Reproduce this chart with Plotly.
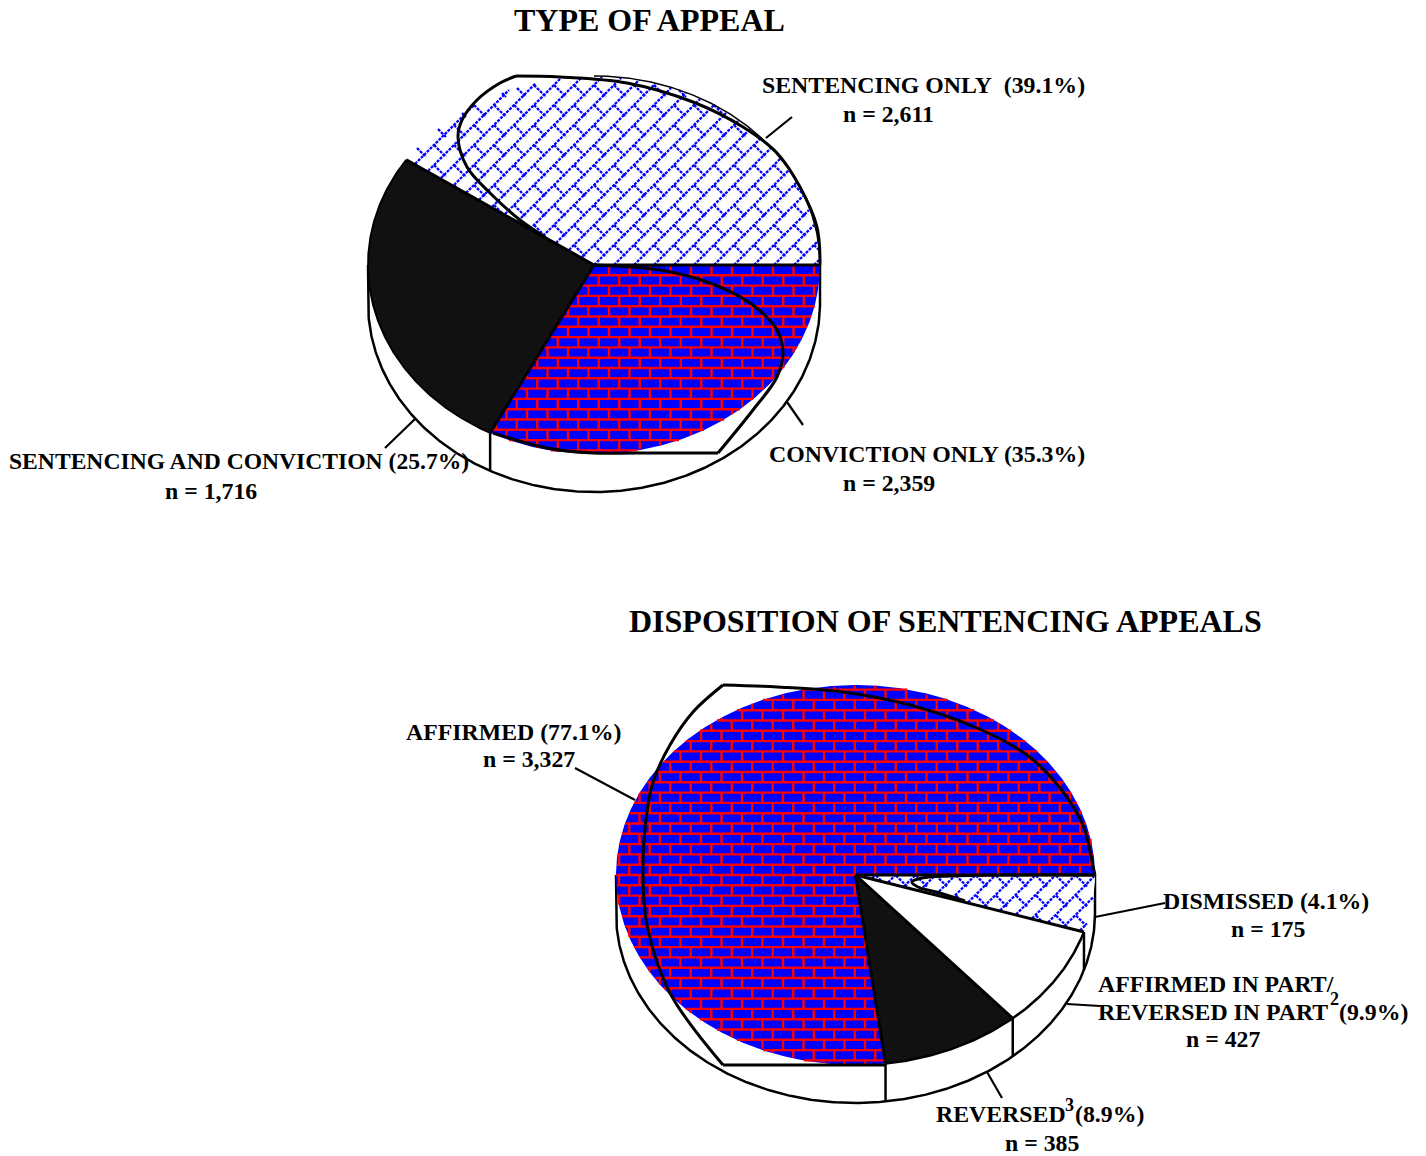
import numpy as np
import plotly.graph_objects as go

# ---------- data printed on the chart ----------
type_labels = ["SENTENCING ONLY", "CONVICTION ONLY", "SENTENCING AND CONVICTION"]
type_pct = [39.1, 35.3, 25.7]
type_n = [2611, 2359, 1716]
disp_labels = ["AFFIRMED", "DISMISSED", "AFFIRMED IN PART/", "REVERSED"]
disp_pct = [77.1, 4.1, 9.9, 8.9]
disp_n = [3327, 175, 427, 385]

# slice sizes as actually drawn in the picture (share of the ellipse sweep, %)
type_drawn = [40.6, 26.8, 32.6]         # ccw from east: sentencing, both, conviction
disp_drawn = [77.0, 9.4, 8.75, 4.85]    # ccw from east: affirmed, reversed, part, dismissed

# stray freehand outlines of the original (page pixels)
top_curve_a_x = [516, 560, 627, 693, 743, 777, 800, 817, 820]
top_curve_a_y = [76, 77, 83, 102, 127, 153, 187, 227, 265]
top_curve_b_x = [516, 500, 477, 462, 458, 467, 490, 520, 545]
top_curve_b_y = [76, 83, 100, 120, 137, 167, 193, 220, 237]
top_curve_c_x = [594, 660, 710, 750, 777, 783, 777, 753, 718]
top_curve_c_y = [265, 270, 283, 303, 330, 353, 377, 410, 453]
top_curve_d_x = [718, 637, 593, 547, 493]
top_curve_d_y = [453, 453, 453, 448, 433]
bot_curve_a_x = [723, 777, 843, 910, 977, 1027, 1060, 1083, 1093, 1095]
bot_curve_a_y = [685, 687, 692, 705, 728, 755, 788, 825, 866, 875]
bot_curve_b_x = [723, 693, 670, 653, 645, 643, 647, 670, 723]
bot_curve_b_y = [685, 712, 745, 782, 828, 875, 925, 993, 1065]
bot_curve_c_x = [723, 885]
bot_curve_c_y = [1065, 1065]
bot_curve_d_x = [1095, 1000, 950, 922, 912, 918, 940, 965]
bot_curve_d_y = [875, 875, 876, 878, 882, 887, 893, 901]

# leader lines (page pixels)
leaders = [
    ([766, 792], [138, 117]), ([787, 803], [402, 425]), ([415, 385], [419, 448]),
    ([575, 635], [768, 800]), ([1095, 1165], [917, 903]), ([1067, 1100], [1004, 1006]),
    ([987, 1002], [1072, 1098]),
]

# ---------- styling ----------
FONT = "Liberation Serif"
BLACK = "#111111"
TOP = dict(cx=594, cy=265, rx=226, ry=189, depth=38, brick_x=650)
BOT = dict(cx=855.5, cy=875, rx=239.5, ry=190, depth=38, brick_x=660)
BW, BH = 20.5, 10.3
HATCH = 20.0

fig = go.Figure()


def add_line(x, y, width=2.5, color="black", spline=False):
    line = dict(color=color, width=width)
    if spline:
        line.update(shape="spline", smoothing=1)
    fig.add_trace(go.Scatter(x=x, y=y, mode="lines", line=line, hoverinfo="skip", showlegend=False))


def arc(p, t0, t1, dy=0):
    t = np.radians(np.linspace(t0, t1, max(int(abs(t1 - t0) * 2), 2)))
    return p["cx"] + p["rx"] * np.cos(t), p["cy"] + dy - p["ry"] * np.sin(t)


def wedge(p, t0, t1, color):
    ax, ay = arc(p, t0, t1)
    x = np.r_[p["cx"], ax, p["cx"]]
    y = np.r_[p["cy"], ay, p["cy"]]
    fig.add_trace(go.Scatter(x=x, y=y, mode="lines", fill="toself", fillcolor=color, line=dict(width=0),
                             hoverinfo="skip", showlegend=False))


def in_wedge(p, x, y, t0, t1):
    u, v = (x - p["cx"]) / p["rx"], (p["cy"] - y) / p["ry"]
    a = np.degrees(np.arctan2(v, u)) % 360
    return (u * u + v * v <= 1) & (a >= t0) & (a <= t1)


def bricks(p, t0, t1):
    xs, ys = [], []

    def seg(x, y):
        m = in_wedge(p, x, y, t0, t1)
        xs.extend(np.where(m, x, np.nan).tolist() + [None])
        ys.extend(np.where(m, y, np.nan).tolist() + [None])

    x_all = np.arange(p["cx"] - p["rx"], p["cx"] + p["rx"] + 1, 1.0)
    n_up = int(p["ry"] / BH) + 1
    for i in range(-n_up, n_up + 1):
        y0 = p["cy"] + i * BH
        seg(x_all, np.full_like(x_all, y0))
        shift = BW / 2 if i % 2 else 0
        vy = np.linspace(y0, y0 + BH, 9)
        k0 = int((p["cx"] - p["rx"] - p["brick_x"]) / BW) - 2
        k1 = int((p["cx"] + p["rx"] - p["brick_x"]) / BW) + 2
        for k in range(k0, k1):
            seg(np.full_like(vy, p["brick_x"] + k * BW + shift), vy)
    fig.add_trace(go.Scatter(x=xs, y=ys, mode="lines", line=dict(color="#ff0000", width=2.4),
                             hoverinfo="skip", showlegend=False))


def weave(p, t0, t1):
    """Blue dotted basket-weave texture of the original, clipped to a slice."""
    xs, ys = [], []
    span = int((p["rx"] + p["ry"]) * 2 / HATCH) + 2
    base = p["cx"] + p["cy"]
    base2 = p["cx"] - p["cy"]
    x_all = np.arange(p["cx"] - p["rx"], p["cx"] + p["rx"] + 1, 1.0)
    for k in range(-span, span):
        # "/" family, always drawn
        y = base + k * HATCH - x_all
        m = in_wedge(p, x_all, y, t0, t1)
        xs.extend(np.where(m, x_all, np.nan).tolist() + [None])
        ys.extend(np.where(m, y, np.nan).tolist() + [None])
        # "\" family, broken at alternate crossings
        y = x_all - (base2 + k * HATCH)
        phase = ((x_all + y - base) + (k % 2) * HATCH) % (2 * HATCH)
        m = in_wedge(p, x_all, y, t0, t1) & (phase < 1.25 * HATCH)
        xs.extend(np.where(m, x_all, np.nan).tolist() + [None])
        ys.extend(np.where(m, y, np.nan).tolist() + [None])
    fig.add_trace(go.Scatter(x=xs, y=ys, mode="lines",
                             line=dict(color="#0000ff", width=2.3, dash="3px,1.2px"),
                             hoverinfo="skip", showlegend=False))


def wall(p):
    ax, ay = arc(p, 180, 360, dy=p["depth"])
    x = np.r_[p["cx"] - p["rx"], ax, p["cx"] + p["rx"]]
    y = np.r_[p["cy"], ay, p["cy"]]
    fig.add_trace(go.Scatter(x=x, y=y, mode="lines", fill="toself", fillcolor="white",
                             line=dict(color="black", width=2.5), hoverinfo="skip", showlegend=False))


def edge(p, t, wall_line=False):
    r = np.radians(t)
    x = p["cx"] + p["rx"] * np.cos(r)
    y = p["cy"] - p["ry"] * np.sin(r)
    add_line([p["cx"], x], [p["cy"], y], width=3)
    if wall_line:
        add_line([x, x], [y, y + p["depth"]])


# ---------- top pie ----------
cum = np.cumsum(type_drawn) * 3.6
wall(TOP)
wedge(TOP, 0, cum[0], "white")
weave(TOP, 0, cum[0])
wedge(TOP, cum[0], cum[1], BLACK)
wedge(TOP, cum[1], 360, "#0000ff")
bricks(TOP, cum[1], 360)
for t, w in ((0, False), (cum[0], False), (cum[1], True)):
    edge(TOP, t, w)
rx, ry = arc(TOP, 0, 90)
add_line(rx, ry, width=1.5)
add_line(*arc(TOP, cum[0], cum[1]), width=2)
add_line(top_curve_a_x, top_curve_a_y, width=3, spline=True)
add_line(top_curve_b_x, top_curve_b_y, width=3, spline=True)
add_line(top_curve_c_x, top_curve_c_y, width=3, spline=True)
add_line(top_curve_d_x, top_curve_d_y, width=3, spline=True)

# ---------- bottom pie ----------
cum2 = np.cumsum(disp_drawn) * 3.6
wall(BOT)
wedge(BOT, 0, cum2[0], "#0000ff")
bricks(BOT, 0, cum2[0])
wedge(BOT, cum2[0], cum2[1], BLACK)
wedge(BOT, cum2[1], cum2[2], "white")
wedge(BOT, cum2[2], 360, "white")
weave(BOT, cum2[2], 360)
for t, w in ((0, False), (cum2[0], True), (cum2[1], True), (cum2[2], True)):
    edge(BOT, t, w)
add_line(*arc(BOT, cum2[0], cum2[2]), width=2.5)
add_line(bot_curve_a_x, bot_curve_a_y, width=3, spline=True)
add_line(bot_curve_b_x, bot_curve_b_y, width=3, spline=True)
add_line(bot_curve_c_x, bot_curve_c_y, width=3)
add_line(bot_curve_d_x, bot_curve_d_y, width=3, spline=True)

for lx, ly in leaders:
    add_line(lx, ly, width=2.2)


# ---------- text ----------
def txt(x, y, s, size=23.8):
    fig.add_annotation(x=x, y=y, text=s, showarrow=False, xanchor="left", yanchor="middle",
                       xref="x", yref="y", borderpad=0,
                       font=dict(family=FONT, size=size, color="black"))


def b(s):
    return "<b>" + s + "</b>"


def n_text(v):
    return b(f"n = {v:,}")


txt(513, 20, b("TYPE OF APPEAL"), 32)
txt(628, 621, b("DISPOSITION OF SENTENCING APPEALS"), 32)
txt(761, 85, b(f"{type_labels[0]}\u00a0 ({type_pct[0]}%)"))
txt(842, 114, n_text(type_n[0]))
txt(768, 454, b(f"{type_labels[1]} ({type_pct[1]}%)"))
txt(842, 483, n_text(type_n[1]))
txt(8, 461, b(f"{type_labels[2]} ({type_pct[2]}%)"), 23.6)
txt(164, 491, n_text(type_n[2]))
txt(405, 732, b(f"{disp_labels[0]} ({disp_pct[0]}%)"))
txt(482, 759, n_text(disp_n[0]))
txt(1162, 901, b(f"{disp_labels[1]} ({disp_pct[1]}%)"))
txt(1230, 929, n_text(disp_n[1]))
txt(1097, 984, b(disp_labels[2]))
txt(1097, 1012, b("REVERSED IN PART"))
txt(1329, 999, b("2"), 18)
txt(1338, 1012, b(f"({disp_pct[2]}%)"))
txt(1185, 1039, n_text(disp_n[2]))
txt(935, 1114, b(disp_labels[3]))
txt(1064, 1105, b("3"), 18)
txt(1074, 1114, b(f"({disp_pct[3]}%)"))
txt(1004, 1143, n_text(disp_n[3]))

fig.update_layout(
    width=1426, height=1156, margin=dict(l=0, r=0, t=0, b=0),
    plot_bgcolor="white", paper_bgcolor="white", showlegend=False,
    xaxis=dict(range=[0, 1426], visible=False, fixedrange=True),
    yaxis=dict(range=[1156, 0], visible=False, fixedrange=True),
)
fig.write_html("out.html", config={"displayModeBar": False},
               post_script="document.body.style.margin='0';document.body.style.overflow='hidden';")
